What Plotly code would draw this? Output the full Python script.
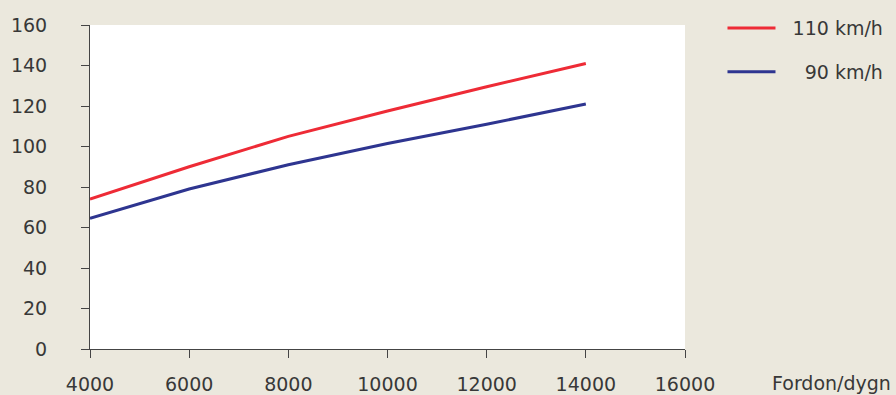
import plotly.graph_objects as go

# Fordon/dygn
fordon = [4000, 6000, 8000, 10000, 12000, 14000]
v110 = [74, 90, 105, 117.5, 129.5, 141]
v90 = [64.5, 79, 91, 101.5, 111, 121]

x_ticks = [4000, 6000, 8000, 10000, 12000, 14000, 16000]
y_ticks = [0, 20, 40, 60, 80, 100, 120, 140, 160]

RED = "#EE2B36"
BLUE = "#2E3590"
TEXT = "#383838"
FONT = "DejaVu Sans"

fig = go.Figure()
fig.add_trace(go.Scatter(
    x=fordon, y=v110, name="\u2007110 km/h", mode="lines",
    line=dict(color=RED, width=3), legendgroup="a"
))
fig.add_trace(go.Scatter(
    x=fordon, y=v90, name="\u2007\u200790 km/h", mode="lines",
    line=dict(color=BLUE, width=3), legendgroup="b"
))

fig.update_layout(
    width=896, height=395,
    margin=dict(l=90, r=211, t=25, b=46, autoexpand=False),
    paper_bgcolor="#EBE8DD",
    plot_bgcolor="white",
    font=dict(family=FONT, size=19, color=TEXT),
    showlegend=True,
    legend=dict(
        x=1.063, y=1.049, xanchor="left", yanchor="top",
        bgcolor="rgba(0,0,0,0)", itemwidth=48,
        traceorder="grouped", tracegroupgap=16,
        font=dict(family=FONT, size=19, color=TEXT),
    ),
)

fig.update_xaxes(
    range=[4000, 16000], tickvals=x_ticks, tickformat="d",
    showline=True, linecolor="#444", linewidth=1,
    ticks="outside", ticklen=8, tickcolor="#444",
    showgrid=False, zeroline=False, ticklabelstandoff=10,
)
fig.update_yaxes(
    range=[0, 160], tickvals=y_ticks,
    showline=True, linecolor="#444", linewidth=1,
    ticks="outside", ticklen=8, tickcolor="#444",
    showgrid=False, zeroline=False, ticklabelstandoff=30,
)

fig.add_annotation(
    text="Fordon/dygn", xref="paper", yref="paper",
    x=1.35, y=0, yshift=-34, xanchor="right", yanchor="middle",
    showarrow=False, font=dict(family=FONT, size=19, color=TEXT),
)

fig.write_html(
    "out.html",
    config={"displayModeBar": False},
    post_script="document.body.style.margin='0';",
)
